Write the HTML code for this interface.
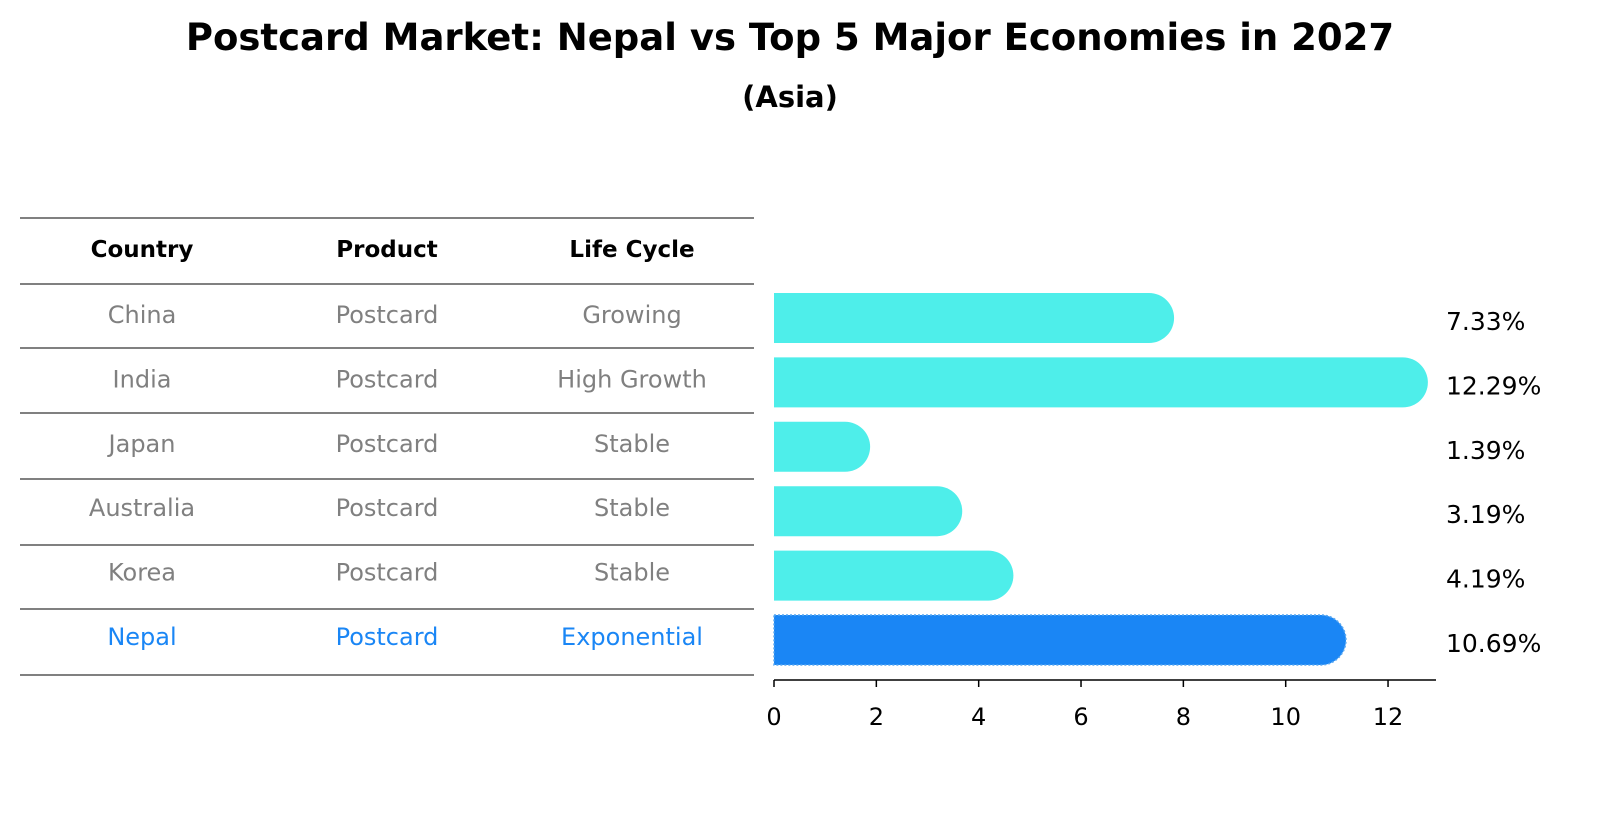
<!DOCTYPE html>
<html><head><meta charset="utf-8"><style>
body{margin:0;background:#fff;font-family:"Liberation Sans","DejaVu Sans",sans-serif;}
#wrap{position:relative;width:1604px;height:823px;overflow:hidden;}
</style></head><body>
<div id="wrap">
<svg id="svg" width="1604" height="823" xmlns="http://www.w3.org/2000/svg">
<text x="790" y="50" text-anchor="middle" font-size="37" font-weight="bold" font-family="DejaVu Sans, sans-serif">Postcard Market: Nepal vs Top 5 Major Economies in 2027</text>
<text x="790" y="107" text-anchor="middle" font-size="29" font-weight="bold" font-family="DejaVu Sans, sans-serif">(Asia)</text>
<g id="table"></g>
<g id="bars"></g>
</svg>
</div>
<script>
const countries=["China","India","Japan","Australia","Korea","Nepal"];
const products=["Postcard","Postcard","Postcard","Postcard","Postcard","Postcard"];
const lifeCycles=["Growing","High Growth","Stable","Stable","Stable","Exponential"];
const growthValues=[7.33,12.29,1.39,3.19,4.19,10.69];
const xTicks=[0,2,4,6,8,10,12];

const NS="http://www.w3.org/2000/svg";
function mk(tag,attrs,parent){const e=document.createElementNS(NS,tag);for(const k in attrs)e.setAttribute(k,attrs[k]);parent.appendChild(e);return e;}
const FONT="DejaVu Sans, sans-serif";
const table=document.getElementById('table');
const bars=document.getElementById('bars');
const rowY=i=>318+i*64.4;
const colX=[142,387,632];
const lineYs=[218,284,348,413,479,545,609,675];
lineYs.forEach((y,i)=>{
  const l=mk('line',{x1:20,x2:754,y1:y,y2:y,stroke:'#000','stroke-width':1},table);
  
  
});
["Country","Product","Life Cycle"].forEach((h,j)=>{
  const t=mk('text',{x:colX[j],y:257,'text-anchor':'middle','font-size':23,'font-weight':'bold','font-family':FONT},table);
  t.textContent=h;
  
  
});
countries.forEach((c,i)=>{
  const col=c==="Nepal"?'#1a86f5':'#808080';
  [c,products[i],lifeCycles[i]].forEach((v,j)=>{
    const t=mk('text',{x:colX[j],y:rowY(i)+5,'text-anchor':'middle','font-size':24,fill:col,'font-family':FONT},table);
    t.textContent=v;
    
    
  });
});
const x0=774,pxPer=51.17;
const xs=v=>x0+v*pxPer;
const bh=50,r=25;
growthValues.forEach((v,i)=>{
  const y=rowY(i)-bh/2;
  const nep=countries[i]==="Nepal";
  const col=nep?'#1a86f5':'#4eeeea';
  const w=xs(v)-x0;
  const p=mk('path',{d:`M${x0},${y} H${x0+w} A${r},${r} 0 0 1 ${x0+w},${y+bh} H${x0} Z`,fill:col},bars);
  if(nep){p.setAttribute('stroke','#5aa8f0');p.setAttribute('stroke-dasharray','2,2');p.setAttribute('stroke-width','1.5');}
  
  
  const t=mk('text',{x:1446,y:rowY(i)+12,'font-size':25,'font-family':FONT},bars);
  t.textContent=v.toFixed(2)+'%';
  
  
});
const ax=mk('line',{x1:x0,x2:1436,y1:680,y2:680,stroke:'#000','stroke-width':1.5},bars);


xTicks.forEach(v=>{
  const tl=mk('line',{x1:xs(v),x2:xs(v),y1:680,y2:687,stroke:'#000','stroke-width':1.5},bars);
  
  
  const t=mk('text',{x:xs(v),y:725,'text-anchor':'middle','font-size':24,'font-family':FONT},bars);
  t.textContent=v;
  
  
});
</script>
</body></html>
